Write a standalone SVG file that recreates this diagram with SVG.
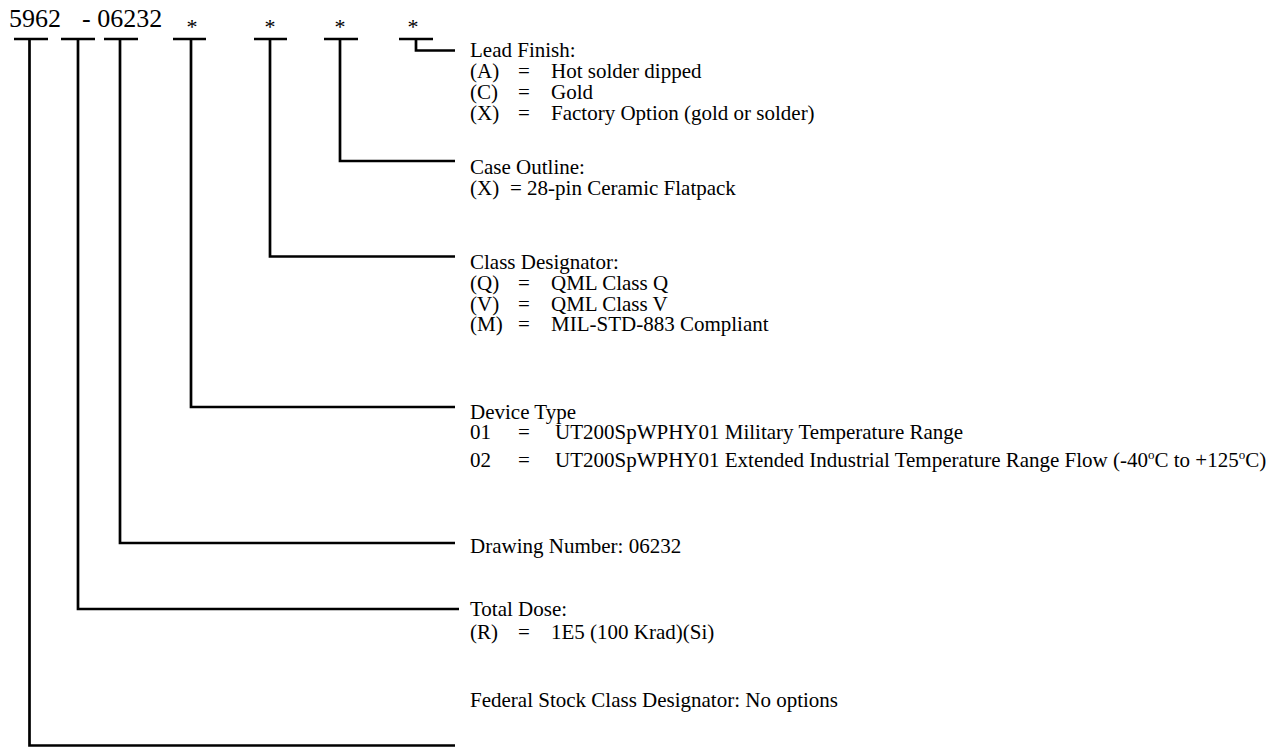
<svg xmlns="http://www.w3.org/2000/svg" width="1283" height="747" viewBox="0 0 1283 747">
<style>
text { font-family: "Liberation Serif", "Times New Roman", serif; fill: #000; }
.lbl { font-size: 21px; }
.code { font-size: 26px; }
.star { font-size: 22px; text-anchor: middle; }
.sup { font-size: 13px; }
.ln { fill: none; stroke: #000; stroke-width: 2.7; stroke-linejoin: miter; stroke-linecap: butt; }
</style>
<rect width="1283" height="747" fill="#fff"/>
<g id="part-number">
<text class="code" x="9" y="27">5962</text>
<text class="code" x="82" y="27">- 06232</text>
<text class="star" x="192" y="34">*</text>
<text class="star" x="270" y="34">*</text>
<text class="star" x="340" y="34">*</text>
<text class="star" x="413" y="34">*</text>
</g>
<g id="connectors">
<path class="ln" d="M14,39 H48 M61,39 H95 M104,39 H138 M173,39 H206 M254,39 H287 M324,39 H358 M399,39 H433"/>
<path class="ln" d="M416,39 V50.5 H455"/>
<path class="ln" d="M340,39 V161 H455"/>
<path class="ln" d="M270,39 V256.5 H455"/>
<path class="ln" d="M191,39 V407 H455"/>
<path class="ln" d="M120,39 V543 H455"/>
<path class="ln" d="M78,39 V609 H459"/>
<path class="ln" d="M29.5,39 V745.5 H455"/>
</g>
<g id="lead-finish" class="lbl">
<text class="lbl" x="470" y="57">Lead Finish:</text>
<text class="lbl" x="470" y="78">(A)</text><text class="lbl" x="518" y="78">=</text><text class="lbl" x="551" y="78">Hot solder dipped</text>
<text class="lbl" x="470" y="99">(C)</text><text class="lbl" x="518" y="99">=</text><text class="lbl" x="551" y="99">Gold</text>
<text class="lbl" x="470" y="120">(X)</text><text class="lbl" x="518" y="120">=</text><text class="lbl" x="551" y="120">Factory Option (gold or solder)</text>
</g>
<g id="case-outline">
<text class="lbl" x="470" y="174">Case Outline:</text>
<text class="lbl" x="470" y="195">(X)</text><text class="lbl" x="510" y="195">= 28-pin Ceramic Flatpack</text>
</g>
<g id="class-designator">
<text class="lbl" x="470" y="269">Class Designator:</text>
<text class="lbl" x="470" y="290">(Q)</text><text class="lbl" x="518" y="290">=</text><text class="lbl" x="551" y="290">QML Class Q</text>
<text class="lbl" x="470" y="311">(V)</text><text class="lbl" x="518" y="311">=</text><text class="lbl" x="551" y="311">QML Class V</text>
<text class="lbl" x="470" y="331">(M)</text><text class="lbl" x="518" y="331">=</text><text class="lbl" x="551" y="331">MIL-STD-883 Compliant</text>
</g>
<g id="device-type">
<text class="lbl" x="470" y="419">Device Type</text>
<text class="lbl" x="470" y="439">01</text><text class="lbl" x="518" y="439">=</text><text class="lbl" x="555" y="439">UT200SpWPHY01 Military Temperature Range</text>
<text class="lbl" x="470" y="467">02</text><text class="lbl" x="518" y="467">=</text><text class="lbl" x="555" y="467">UT200SpWPHY01 Extended Industrial Temperature Range Flow (-40<tspan class="sup" dy="-8">o</tspan><tspan dy="8">C to +125</tspan><tspan class="sup" dy="-8">o</tspan><tspan dy="8">C)</tspan></text>
</g>
<g id="drawing-number">
<text class="lbl" x="470" y="553">Drawing Number: 06232</text>
</g>
<g id="total-dose">
<text class="lbl" x="470" y="616">Total Dose:</text>
<text class="lbl" x="470" y="639">(R)</text><text class="lbl" x="518" y="639">=</text><text class="lbl" x="551" y="639">1E5 (100 Krad)(Si)</text>
</g>
<g id="federal-stock">
<text class="lbl" x="470" y="707">Federal Stock Class Designator: No options</text>
</g>
</svg>
